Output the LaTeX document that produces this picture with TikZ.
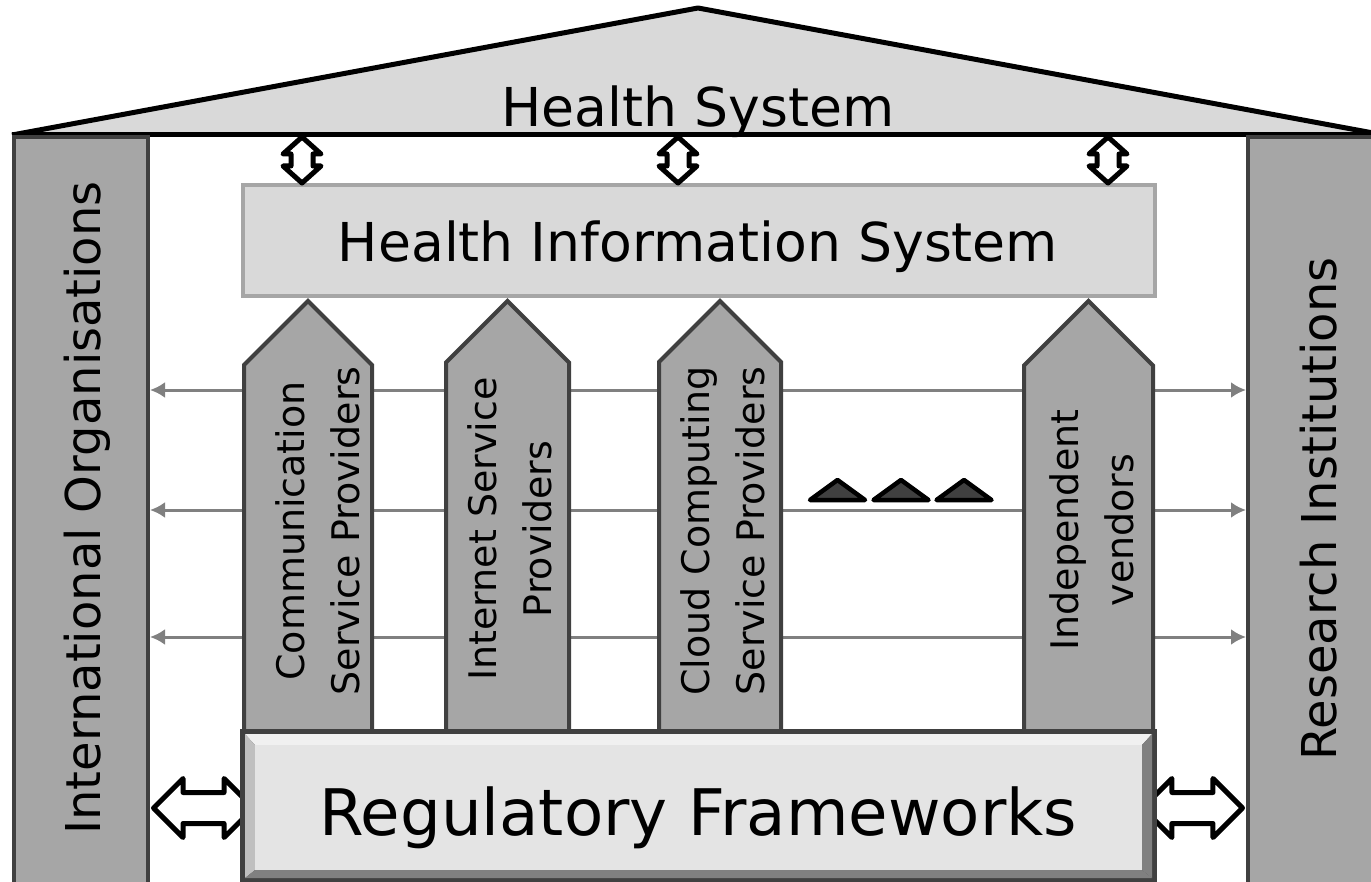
\documentclass[tikz,border=0pt]{standalone}
\usepackage{fontspec}
\setmainfont{DejaVu Sans}
\usetikzlibrary{shapes.arrows,arrows.meta,calc}

\definecolor{roofgray}{HTML}{D9D9D9}
\definecolor{pillargray}{HTML}{A6A6A6}
\definecolor{edgegray}{HTML}{404040}
\definecolor{linegray}{HTML}{808080}
\definecolor{facegray}{HTML}{E4E4E4}

\tikzset{
	sidepillar/.style={draw=edgegray,fill=pillargray,line width=2pt,inner sep=0pt,minimum width=67pt,minimum height=374pt},
	provider/.style={draw=edgegray,fill=pillargray,line width=2pt},
	sidetext/.style={font=\fontsize{24}{29}\selectfont,inner sep=0pt},
	pillartext/.style={font=\fontsize{19}{27.5}\selectfont,align=center,inner sep=0pt},
	bigtext/.style={font=\fontsize{26.8}{32}\selectfont,inner sep=0pt},
	hisbox/.style={draw=pillargray,fill=roofgray,line width=2pt,inner sep=0pt,minimum width=456pt,minimum height=55.5pt},
	flow/.style={draw=linegray,line width=1.5pt,arrows={Latex[length=7.5pt,width=8pt]-Latex[length=7.5pt,width=8pt]}},
	updown/.style={draw=black,fill=white,line width=2.5pt,line join=round},
	sidearrow/.style={double arrow,draw=black,fill=white,line width=2.5pt,line join=round,inner xsep=0pt,inner ysep=6.5pt,
		minimum height=50pt,minimum width=27pt,double arrow head extend=7pt,double arrow tip angle=90},
	dots/.style={draw=black,fill=edgegray,line width=2.25pt,line join=round},
}

\begin{document}
\begin{tikzpicture}[x=0.5pt,y=-0.5pt]
	\useasboundingbox (0,0) rectangle (1371,882);

	% roof
	\fill[roofgray] (12,135) -- (698,8) -- (1384,135) -- cycle;
	\draw[line width=2.5pt,line join=round] (12,135) -- (698,8) -- (1384,135);
	\draw[line width=2.5pt] (12,135) -- (1384,135);
	\coordinate (eave) at (698,135);
	\node[bigtext,anchor=base] (hs) at (698,127) {Health System};

	% outer pillars
	\node[sidepillar] (intorg) at (81,511) {};
	\node[sidepillar] (resinst) at (1315,511) {};
	\node[sidetext,rotate=90,anchor=base] (intorgtext) at (100,508) {International Organisations};
	\node[sidetext,rotate=90,anchor=base] (resinsttext) at (1336,509) {Research Institutions};

	% links between the outer pillars
	\foreach \y in {390,510,637}{
		\draw[flow] (intorg.east |- 0,\y) -- (resinst.west |- 0,\y);
	}

	% providers
	\foreach \l/\r in {244/372,446/569,659/781,1024/1153}{
		\pgfmathsetmacro\m{(\l+\r)/2}
		\pgfmathsetmacro\s{301+(\r-\l)/2}
		\draw[provider] (\l,745) -- (\l,\s) -- (\m,301) -- (\r,\s) -- (\r,745) -- cycle;
	}
	\node[pillartext,rotate=90] (comm) at (318,531) {Communication\\Service Providers};
	\node[pillartext,rotate=90] (isp) at (510,529) {Internet Service\\Providers};
	\node[pillartext,rotate=90] (cloud) at (723,531) {Cloud Computing\\Service Providers};
	\node[pillartext,rotate=90] (indep) at (1092,530) {Independent\\vendors};

	% more providers
	\foreach \x in {837.5,901,964}{
		\draw[dots] (\x-27.5,500) -- (\x,480) -- (\x+27.5,500) -- cycle;
	}

	% health information system
	\node[hisbox] (his) at (699,240.5) {};
	\node[bigtext,anchor=base] (histext) at (698,262) {Health Information System};
	\foreach \x in {302,678,1108}{
		\draw[updown] ($(\x,0 |- eave)+(0,2)$) -- ++(19,17) -- ++(-8,0) -- ++(0,12) -- ++(8,0) -- ++(-19,17)
			-- ++(-19,-17) -- ++(8,0) -- ++(0,-12) -- ++(-8,0) -- cycle;
	}

	% regulatory frameworks
	\node[fill=edgegray,inner sep=0pt,minimum width=458.5pt,minimum height=77pt] (reg) at (698.5,806) {};
	\node[sidearrow,anchor=tip 2] (larr) at (intorg.east |- 0,808) {};
	\node[sidearrow,anchor=tip 1] (rarr) at (resinst.west |- 0,808) {};
	\fill[edgegray] (240,729) rectangle (1157,884);
	\fill[black!6] (245,734) -- (1152,734) -- (1142,745) -- (255,745) -- cycle;
	\fill[black!25] (245,734) -- (255,745) -- (255,870) -- (245,878) -- cycle;
	\fill[linegray] (1152,734) -- (1142,745) -- (1142,870) -- (1152,878) -- cycle;
	\fill[linegray] (245,878) -- (255,870) -- (1142,870) -- (1152,878) -- cycle;
	\fill[facegray] (255,745) rectangle (1142,870);
	\node[font=\fontsize{32.1}{38}\selectfont,inner sep=0pt,anchor=base] (regtext) at (698,835) {Regulatory Frameworks};
\end{tikzpicture}
\end{document}
